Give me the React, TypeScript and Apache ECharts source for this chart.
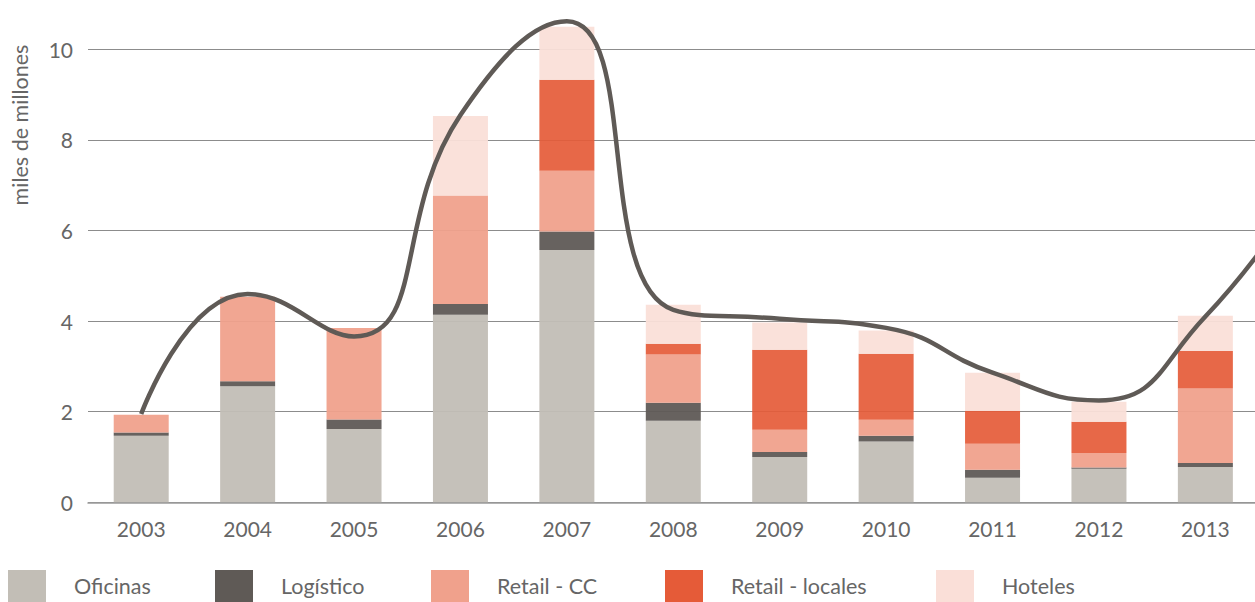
import React, { useEffect, useRef } from 'react';
import * as echarts from 'echarts';

const years = ['2003', '2004', '2005', '2006', '2007', '2008', '2009', '2010', '2011', '2012', '2013', '2014'];
const oficinas = [1.47, 2.56, 1.62, 4.14, 5.57, 1.80, 1.00, 1.34, 0.54, 0.74, 0.78, null];
const logistico = [0.07, 0.11, 0.21, 0.24, 0.41, 0.40, 0.11, 0.13, 0.18, 0.03, 0.09, null];
const retailCC = [0.39, 1.87, 2.02, 2.39, 1.34, 1.06, 0.49, 0.35, 0.57, 0.32, 1.64, null];
const retailLocales = [0, 0, 0, 0, 2.01, 0.24, 1.77, 1.46, 0.73, 0.69, 0.83, null];
const hoteles = [0, 0, 0, 1.76, 1.17, 0.86, 0.60, 0.51, 0.84, 0.44, 0.78, null];
const tendencia = [1.95, 4.6, 3.66, 8.55, 10.62, 4.25, 4.05, 3.85, 2.86, 2.25, 4.1, 7.2];
const yTicks = [0, 2, 4, 6, 8, 10];

const seriesNames = ['Oficinas', 'Logístico', 'Retail - CC', 'Retail - locales', 'Hoteles'];
const seriesColors = ['#c2beb6', '#5f5a56', '#f0a18c', '#e55b38', '#fadfd8'];
const legendLeft = [8, 215, 431, 665, 936];

const FONT = 'Lato, "Open Sans", sans-serif';

export default function App() {
  const ref = useRef<HTMLDivElement>(null);

  useEffect(() => {
    if (!ref.current) return;
    const chart = echarts.init(ref.current, null, { renderer: 'svg' });
    const barData = [oficinas, logistico, retailCC, retailLocales, hoteles];

    const option: any = {
      animation: false,
      backgroundColor: '#ffffff',
      textStyle: { fontFamily: FONT },
      grid: { left: 88, right: 0, top: 49.3, bottom: 99.7, containLabel: false },
      xAxis: {
        type: 'category',
        data: years,
        axisLine: { show: true, lineStyle: { color: '#9a9a9a', width: 1.5 } },
        axisTick: { show: false },
        axisLabel: {
          color: '#666666',
          fontSize: 21,
          fontFamily: FONT,
          margin: 16,
          formatter: (v: string) => (v === '2014' ? '' : v),
        },
        splitLine: { show: false },
      },
      yAxis: {
        type: 'value',
        min: yTicks[0],
        max: yTicks[yTicks.length - 1],
        interval: 2,
        axisLine: { show: false },
        axisTick: { show: false },
        axisLabel: { color: '#666666', fontSize: 21, fontFamily: FONT, margin: 15 },
        splitLine: { show: true, lineStyle: { color: '#8c8c8c', width: 1.2 } },
      },
      legend: seriesNames.map((name, i) => ({
        data: [name],
        left: legendLeft[i],
        top: 570,
        padding: 0,
        itemWidth: 38,
        itemHeight: 32,
        selectedMode: false,
        icon: 'rect',
        itemStyle: { opacity: 1 },
        textStyle: {
          color: '#666666',
          fontSize: 21.5,
          fontFamily: FONT,
          padding: [9, 0, 0, 23],
        },
      })),
      graphic: [
        {
          type: 'text',
          x: 20,
          y: 125,
          rotation: Math.PI / 2,
          style: {
            text: 'miles de millones',
            fill: '#666666',
            fontSize: 21.5,
            fontFamily: FONT,
            align: 'center',
            verticalAlign: 'middle',
          },
        },
      ],
      series: [
        ...seriesNames.map((name, i) => ({
          name,
          type: 'bar',
          stack: 'total',
          data: barData[i],
          barWidth: 55,
          clip: false,
          itemStyle: { color: seriesColors[i], opacity: i === 3 ? 0.92 : 0.95 },
          emphasis: { disabled: true },
        })),
        {
          name: 'Total',
          type: 'line',
          data: tendencia,
          smooth: 0.5,
          showSymbol: false,
          symbol: 'none',
          clip: false,
          lineStyle: { color: '#5f5a56', width: 4.5 },
          z: 5,
        },
      ],
    };

    chart.setOption(option);
    return () => chart.dispose();
  }, []);

  return (
    <div style={{ position: 'fixed', left: 0, top: 0, width: 1255, height: 602, overflow: 'hidden', background: '#fff' }}>
      <div ref={ref} style={{ position: 'absolute', left: 0, top: 0, width: 1365, height: 602 }} />
    </div>
  );
}
